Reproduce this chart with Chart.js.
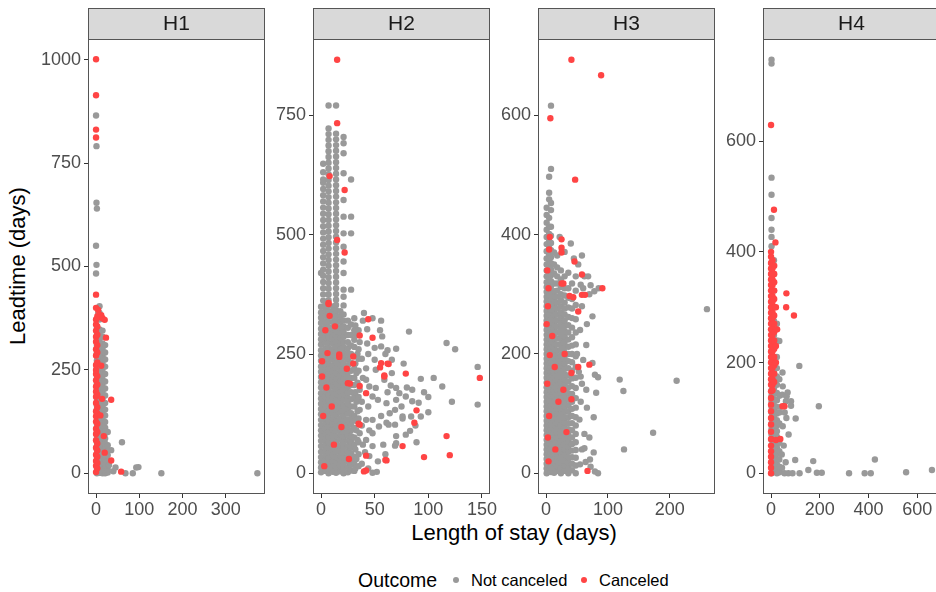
<!DOCTYPE html>
<html>
<head>
<meta charset="utf-8">
<script src="https://cdn.jsdelivr.net/npm/chart.js@4.4.1/dist/chart.umd.min.js"></script>
<style>
  html, body { margin: 0; padding: 0; background: #fff; overflow: hidden; }
  #wrap { position: relative; width: 936px; height: 592px; overflow: hidden; background: #fff;
          font-family: "Liberation Sans", Arial, sans-serif; }
  #wrap canvas { position: absolute; top: 0; }
  .lbl { position: absolute; white-space: nowrap; color: #000; }
  .ytitle { left: 18px; top: 266px; font-size: 22px; transform: translate(-50%, -50%) rotate(-90deg); }
  .xtitle { left: 514px; top: 533px; font-size: 22px; transform: translate(-50%, -50%); }
  .leg { top: 580px; transform: translateY(-50%); }
  .dot { position: absolute; width: 6px; height: 6px; border-radius: 50%; top: 577px; }
</style>
</head>
<body>
<div id="wrap">
  <div class="lbl ytitle">Leadtime (days)</div>
  <div class="lbl xtitle">Length of stay (days)</div>
  <div class="lbl leg" style="left:358px;font-size:19.5px;">Outcome</div>
  <div class="dot" style="left:453px;background:#999999;"></div>
  <div class="lbl leg" style="left:471px;font-size:16.5px;">Not canceled</div>
  <div class="dot" style="left:581px;background:#ff4444;"></div>
  <div class="lbl leg" style="left:599px;font-size:16.5px;">Canceled</div>
</div>
<script>
// facets and axes
const panelNames = ['H1', 'H2', 'H3', 'H4'];
const xTicks = [[0, 100, 200, 300], [0, 50, 100, 150], [0, 100, 200], [0, 200, 400, 600]];
const yTicks = [[0, 250, 500, 750, 1000], [0, 250, 500, 750], [0, 200, 400, 600], [0, 200, 400, 600]];
const xLimits = [[-18.6, 390.6], [-7.5, 157.5], [-13, 273], [-33, 693]];
const yLimits = [[-50, 1050], [-43.4, 910.4], [-34.7, 727.7], [-37.4, 784.4]];

// points, grouped as [lengthOfStay, leadtime, leadtime, ...]
const h1Kept = [
  [2, 0,6,14,22,31,40,48,57,66,75,83,92,101,110,119,128,137,146,155,164,173,182,191,200,209,218,228,237,246,255,264,273,283,292,301,310,320,330,341,352],
  [8, 1,9,18,27,35,44,53,62,71,80,89,97,106,115,124,133,142,151,160,169,178,187,196,206,215,224,233,242,251,260,270,279,288,297,306,316,326,336,348,372,388,404],
  [15, 0,8,16,25,34,43,52,61,70,79,88,98,107,116,125,134,143,152,162,171,180,190,199,208,217,226,236,245,254,264,273,283,293,302,314,330,345],
  [21, 0,7,15,24,33,42,52,61,72,84,97,110,124,140,154,170,188,205,222,240,258,275,292,310],
  [27, 2,10,20,32,44,56,68,100],
  [0, 865,550,483], [1, 791,654,504], [2, 640], [5, 388], [23, 101], [30, 20], [35, 56], [40, 5],
  [45, 14], [60, 75], [68, 0], [85, 0], [93, 14], [98, 15], [151, 0], [373, 0]
];
const h1Canceled = [
  [0, 1001,914,831,812,432,400,372,360,345,330,318,300,285,262,250,240,225,210,198,185,170,150,138,125,108,95,80,62,45,30,18,3],
  [3, 380,355,335,310,292,268,235,215,190,160,145,120,100,72,55,40,25,12],
  [5, 395], [8, 378], [10, 140], [12, 382,260], [14, 180], [15, 375], [18, 90], [20, 371,50],
  [23, 328], [35, 178,31], [58, 4]
];

const h2Kept = [
  [0, 2,12,23,34,45,57,68,79,90,101,112,124,135,146,157,168,180,191,202,213,224,236,247,258,270,281,292,303,315,326,337,349,420],
  [2, 362,375,388,401,414,427,440,453,466,479,492,505,518,531,544,557,570,583,596,609,616,631,649],
  [4, 5,16,27,38,49,60,72,83,94,105,116,128,139,150,161,172,184,195,206,217,228,240,251,262,274,285,296,307,319,330,341,353],
  [7, 0,10,21,32,43,54,65,76,87,98,109,120,131,142,153,164,175,186,197,208,219,230,241,252,263,274,285,296,307,318,329,340,351,363,375,387,399,411,423,435,447,459,471,483,495,507,519,531,543,555,567,579,591,603,615,627,639,651,663,675,687,699,711,723,771],
  [11, 3,14,25,36,47,58,70,81,92,103,114,126,137,148,159,170,182,193,204,215,226,238,249,260,272,283,294,305,317,328,339,350],
  [14, 1,12,23,34,45,56,67,78,89,100,111,122,133,144,155,166,177,188,199,210,221,232,243,254,265,276,287,298,309,320,331,342,353,364,376,388,400,412,424,436,448,460,472,484,496,508,520,532,544,556,568,580,592,604,616,628,640,652,664,676,688,700,712,771],
  [18, 4,15,26,37,48,59,71,82,93,104,115,127,138,149,160,171,183,194,205,216,227,239,250,261,273,284,295,306,318,329,340],
  [21, 0,11,22,33,44,55,66,77,88,99,110,121,132,143,154,165,176,187,198,209,220,231,242,253,264,275,286,297,308,320,333,352,370,385,420,444,475,503,538,573,629,671,692,705],
  [25, 2,13,24,35,46,57,68,80,91,102,113,125,136,147,158,169,181,192,203,214,226,238,250,262,275,290,305,320],
  [28, 6,18,30,42,54,66,78,90,102,114,126,140,155,170,185,200,215,232,250,268,290,312,385,503,538,616],
  [31, 5,20,35,60,75,95,120,140,160,185,200,220,245,265,280,300,325],
  [32, 10,50,110,170,230,310], [33, 30,90,150,210,290], [34, 70,130,190,250],
  [35, 15,40,65,115,160,215,240,260,300],
  [36, 84,133,175,275], [38, 20,100,150,240], [39, 60,200,320], [40, 336],
  [41, 44], [42, 70,112,196,220], [43, 272,302], [44, 10,140,250], [45, 36,90,182],
  [48, 1,57,84,112,161,325], [50, 238,263], [51, 179,217], [52, 3], [53, 25,154], [54, 98],
  [55, 300], [56, 120,266,320], [57, 287], [58, 60], [59, 196], [60, 40,250], [61, 106,147],
  [62, 170,258], [63, 102], [64, 126], [65, 184], [66, 210,238], [69, 58,102,133], [70, 63,78,154,179,261],
  [73, 168], [75, 140], [76, 115,119], [77, 230], [79, 81,161], [80, 180], [82, 297], [83, 89],
  [84, 119], [85, 151,175], [88, 100], [89, 65], [91, 148], [93, 119,198], [96, 170], [100, 128,160],
  [105, 200], [113, 182], [117, 273], [122, 150], [125, 260], [146, 144,223]
];
const h2Canceled = [
  [15, 867,734,489], [8, 623], [22, 594,463], [7, 355,357], [13, 308], [6, 252], [1, 235,203],
  [17, 244,249], [24, 219], [25, 189], [36, 183,102,289], [19, 97], [44, 323], [48, 284], [62, 230],
  [79, 209], [55, 222], [59, 203,205], [148, 200], [89, 132], [87, 106], [76, 57], [96, 34], [117, 78],
  [120, 38], [61, 27], [40, 4], [2, 120], [3, 15], [10, 140], [5, 180], [12, 60], [26, 30],
  [30, 230,245], [8, 330], [4, 300], [27, 188], [42, 168,37,6], [56, 231], [63, 229], [35, 104], [60, 28]
];

const h3Kept = [
  [1, 0,8,16,24,32,40,48,56,64,72,80,88,96,104,112,120,128,136,144,152,160,168,176,184,192,200,208,216,224,232,240,248,256,264,272,280,288,296,304,312,320,330,340,350,360,372,384,396,408,420,433,445],
  [5, 3,11,19,27,35,43,51,59,67,75,83,91,99,107,115,123,131,139,147,155,163,171,179,187,195,203,211,219,227,235,243,251,259,267,275,283,291,299,307,315,325,335,345,355,366,377,389,401,413,428,459,470,497],
  [8, 2,10,18,26,34,42,50,58,66,74,82,90,98,106,114,122,130,138,146,154,162,170,178,186,194,202,210,218,226,234,242,250,258,266,274,282,290,298,306,314,322,332,342,352,362,374,386,398,413,441,453,510,616],
  [13, 1,9,17,25,33,41,49,57,65,73,81,89,97,105,113,121,129,137,145,153,161,169,177,185,193,201,209,217,225,233,241,249,257,265,273,281,289,297,305,318,335,350,370],
  [18, 4,12,20,28,36,44,52,60,68,76,84,92,100,108,116,124,132,140,148,156,164,172,180,188,196,206,216,226,236,246,256,266,276,286,296,306,318,330,345,365],
  [22, 396],
  [24, 0,9,18,27,36,45,54,63,72,81,90,99,108,117,126,135,144,153,162,171,180,189,198,207,216,225,234,243,252,261,270,280,290,300,312,325,340],
  [30, 4,13,22,31,40,49,58,67,76,85,94,103,112,121,130,139,148,157,166,175,184,193,202,211,220,229,238,247,256,266,276,286,298,310,330,371],
  [36, 0,9,18,27,36,45,54,64,74,84,94,104,114,124,134,144,154,164,176,188,200,212,224,236,248,262,278,294,310,336],
  [42, 5,16,27,38,49,60,72,84,96,108,120,133,146,159,172,186,200,214,228,244,260,276,292,318],
  [48, 0,13,26,39,52,66,80,94,110,126,143,160,178,196,216,236,258,282,306,330],
  [40, 385], [45, 360], [50, 200], [52, 350], [53, 170], [54, 90], [55, 15,240], [56, 120,162,316],
  [58, 40,150,280,365], [60, 190,310], [62, 42,66,330], [64, 19], [65, 140,215], [66, 110,250],
  [68, 330], [70, 60,300], [71, 23], [72, 11,315], [75, 185,263], [77, 35,94], [78, 305], [79, 3,165],
  [81, 135], [84, 0,161], [85, 310], [119, 157], [125, 138], [126, 40], [173, 68], [211, 155], [260, 275]
];
const h3Canceled = [
  [41, 693,168,124], [89, 667], [7, 595], [47, 492], [6, 396,198], [25, 392,378,370,318], [5, 375,96],
  [46, 355], [58, 333,299], [91, 310], [38, 297], [63, 299], [52, 271,178], [44, 295], [28, 318,140],
  [70, 182], [33, 69], [67, 4], [14, 178], [2, 340,150], [4, 310,20], [3, 280,60], [1, 250],
  [10, 230], [20, 120], [15, 40], [30, 200]
];

const h4Kept = [
  [2, 0,10,20,30,40,50,60,70,80,90,100,110,120,130,140,150,160,170,180,190,200,210,220,240,260,280,300,320,340,360,380,410,427,440,461,503,534,740,747],
  [12, 3,13,23,33,43,53,63,73,83,93,103,113,123,133,143,153,163,173,183,193,205,225,250,275,300,330,360,385],
  [24, 0,8,16,26,36,46,56,66,76,86,96,108,120,132,145,160,175,190,210,240,270],
  [34, 2,12,25,40,55,90,110,140,170,239],
  [40, 120], [44, 34], [45, 10], [46, 142], [47, 182], [48, 85,157], [52, 50], [55, 0], [56, 110],
  [60, 20], [61, 130], [63, 100], [64, 139], [68, 146], [71, 0], [72, 70], [82, 122,130], [88, 0],
  [99, 24], [101, 99], [116, 194], [117, 0], [153, 6], [173, 22], [188, 1], [196, 121], [208, 1],
  [320, 0], [384, 0], [409, 0], [426, 25], [554, 2], [660, 6]
];
const h4Canceled = [
  [0, 0,10,20,30,40,50,62,75,88,100,112,124,136,148,160,170,180,190,200,210,220,230,240,250,260,270,280,290,300,310,320,330,340,350,360,370,380,391,400,629],
  [6, 150,160,170,180,190,200,210,220,230,240,250,260,270,280,290,300,310,320,330,340,350,360,370,385],
  [13, 165,180,195,210,225,240,255,270,285,300,315,330,345,360,375],
  [12, 476], [18, 417], [20, 60,200,230,260,300], [25, 260], [38, 62], [47, 121], [55, 121],
  [62, 300], [63, 325], [94, 285]
];

const keptSeries = [h1Kept, h2Kept, h3Kept, h4Kept];
const canceledSeries = [h1Canceled, h2Canceled, h3Canceled, h4Canceled];

const plotLefts = [88, 313, 538, 763];
const fontFamily = '"Liberation Sans", Arial, sans-serif';

function toPoints(groups) {
  return groups.flatMap(([x, ...ys]) => ys.map(y => ({ x, y })));
}

const facetFrame = {
  id: 'facetFrame',
  afterDraw(chart, args, opts) {
    const { ctx, chartArea: a } = chart;
    const w = a.right - a.left;
    ctx.save();
    ctx.fillStyle = '#d9d9d9';
    ctx.fillRect(a.left, 8, w, a.top - 8);
    ctx.strokeStyle = '#555555';
    ctx.lineWidth = 1;
    ctx.strokeRect(a.left + 0.5, 8.5, w - 1, a.top - 8);
    ctx.strokeRect(a.left + 0.5, a.top + 0.5, w - 1, a.bottom - a.top - 1);
    ctx.fillStyle = '#1a1a1a';
    ctx.font = '21px ' + fontFamily;
    ctx.textAlign = 'center';
    ctx.textBaseline = 'middle';
    ctx.fillText(opts.label, a.left + w / 2, (8 + a.top) / 2 + 1);
    ctx.restore();
  }
};

const wrap = document.getElementById('wrap');

panelNames.forEach((name, i) => {
  const canvas = document.createElement('canvas');
  canvas.width = 52 + 177 + 24;
  canvas.height = 526;
  canvas.style.left = (plotLefts[i] - 52) + 'px';
  wrap.appendChild(canvas);

  const tickGrid = { display: true, drawOnChartArea: false, drawTicks: true, tickLength: 4, tickColor: '#333333', tickWidth: 1 };
  const tickFont = { size: 18, family: fontFamily };

  new Chart(canvas.getContext('2d'), {
    type: 'scatter',
    data: {
      datasets: [
        { label: 'Canceled', data: toPoints(canceledSeries[i]), backgroundColor: '#ff4444',
          pointRadius: 3.2, borderWidth: 0, order: 0 },
        { label: 'Not canceled', data: toPoints(keptSeries[i]), backgroundColor: '#999999',
          pointRadius: 3.2, borderWidth: 0, order: 1 }
      ]
    },
    options: {
      responsive: false,
      animation: false,
      events: [],
      layout: { autoPadding: false, padding: { top: 39, left: 0, right: 24, bottom: 0 } },
      plugins: {
        legend: { display: false },
        tooltip: { enabled: false },
        facetFrame: { label: name }
      },
      scales: {
        x: {
          type: 'linear',
          min: xLimits[i][0],
          max: xLimits[i][1],
          grid: tickGrid,
          border: { display: false },
          ticks: { color: '#4d4d4d', font: tickFont, padding: 1, maxRotation: 0, autoSkip: false,
                   callback: v => String(v) },
          afterBuildTicks: s => { s.ticks = xTicks[i].map(v => ({ value: v })); },
          afterFit: s => { s.height = 32; s.paddingLeft = 0; s.paddingRight = 0; }
        },
        y: {
          type: 'linear',
          min: yLimits[i][0],
          max: yLimits[i][1],
          grid: tickGrid,
          border: { display: false },
          ticks: { color: '#4d4d4d', font: tickFont, padding: 3, autoSkip: false,
                   callback: v => String(v) },
          afterBuildTicks: s => { s.ticks = yTicks[i].map(v => ({ value: v })); },
          afterFit: s => { s.width = 52; s.paddingTop = 0; s.paddingBottom = 0; }
        }
      }
    },
    plugins: [facetFrame]
  });
});
</script>
</body>
</html>
